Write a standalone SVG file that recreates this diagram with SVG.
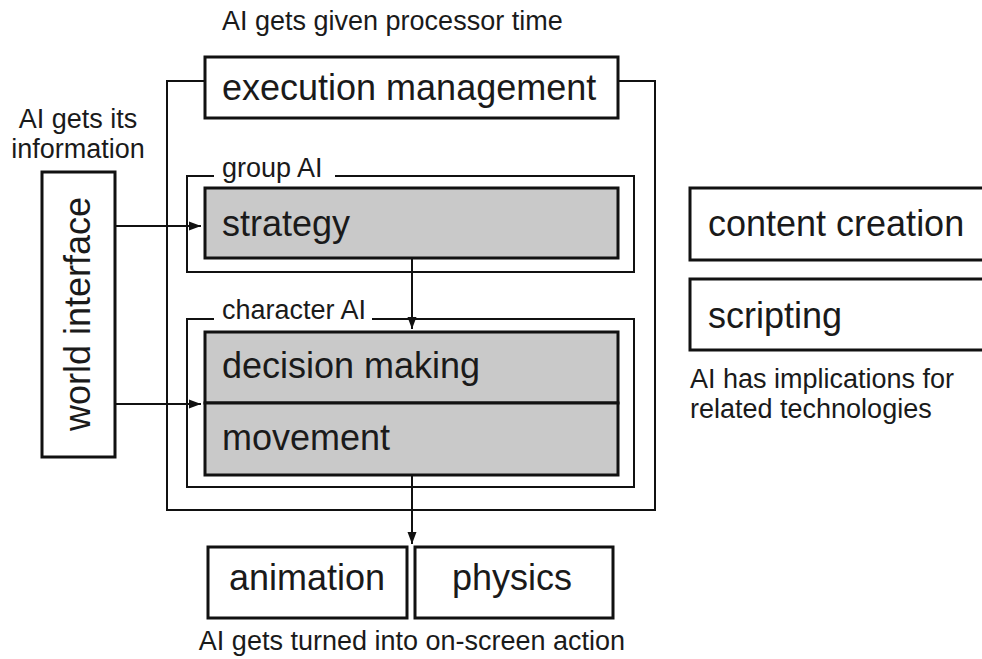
<svg xmlns="http://www.w3.org/2000/svg" width="982" height="659" viewBox="0 0 982 659">
<defs>
<style>
.box{fill:#fff;stroke:#111;stroke-width:3}
.gbox{fill:#c9c9c9;stroke:#111;stroke-width:3}
.frame{fill:none;stroke:#111;stroke-width:2}
.conn{fill:none;stroke:#111;stroke-width:2}
.big{font-family:"Liberation Sans",Arial,sans-serif;font-size:36px;fill:#1a1a1a}
.small{font-family:"Liberation Sans",Arial,sans-serif;font-size:27px;fill:#1a1a1a}
</style>
<marker id="arr" markerWidth="12" markerHeight="10" refX="12" refY="5" orient="auto" markerUnits="userSpaceOnUse">
<path d="M0,0.5 L12,5 L0,9.5 Z" fill="#111"/>
</marker>
</defs>
<rect width="982" height="659" fill="#fff"/>

<g id="frames">
<path class="frame" d="M205,81 H167 V510 H655 V81 H618"/>
<path class="frame" d="M214,176 H187 V272 H634 V176 H335"/>
<path class="frame" d="M214,319 H187 V487 H634 V319 H372"/>
</g>

<g id="labels">
<text class="small" x="222" y="30">AI gets given processor time</text>
<text class="small" x="78" y="128" text-anchor="middle">AI gets its</text>
<text class="small" x="78" y="158" text-anchor="middle">information</text>
<text class="small" x="222" y="177">group AI</text>
<text class="small" x="222" y="319">character AI</text>
<text class="small" x="690" y="388">AI has implications for</text>
<text class="small" x="690" y="418">related technologies</text>
<text class="small" x="412" y="650" text-anchor="middle">AI gets turned into on-screen action</text>
</g>

<g id="execution-management">
<rect class="box" x="205" y="57" width="413" height="61"/>
<text class="big" x="222" y="100">execution management</text>
</g>

<g id="world-interface">
<rect class="box" x="42" y="172" width="73" height="285"/>
<text class="big" transform="translate(90,314) rotate(-90)" text-anchor="middle">world interface</text>
</g>

<g id="strategy">
<rect class="gbox" x="205" y="188" width="413" height="70"/>
<text class="big" x="222" y="236">strategy</text>
</g>

<g id="decision-making">
<rect class="gbox" x="205" y="332" width="413" height="71"/>
<text class="big" x="222" y="378">decision making</text>
</g>

<g id="movement">
<rect class="gbox" x="205" y="403" width="413" height="72"/>
<text class="big" x="222" y="450">movement</text>
</g>

<g id="animation">
<rect class="box" x="208" y="547" width="199" height="71"/>
<text class="big" x="307" y="590" text-anchor="middle">animation</text>
</g>

<g id="physics">
<rect class="box" x="415" y="547" width="198" height="71"/>
<text class="big" x="512" y="590" text-anchor="middle">physics</text>
</g>

<g id="content-creation">
<rect class="box" x="690" y="188" width="300" height="72"/>
<text class="big" x="708" y="236">content creation</text>
</g>

<g id="scripting">
<rect class="box" x="690" y="279" width="300" height="71"/>
<text class="big" x="708" y="328">scripting</text>
</g>

<g id="connectors">
<line class="conn" x1="115" y1="226" x2="201" y2="226" marker-end="url(#arr)"/>
<line class="conn" x1="115" y1="404" x2="201" y2="404" marker-end="url(#arr)"/>
<line class="conn" x1="412" y1="258" x2="412" y2="329" marker-end="url(#arr)"/>
<line class="conn" x1="412" y1="475" x2="412" y2="544" marker-end="url(#arr)"/>
</g>
</svg>
